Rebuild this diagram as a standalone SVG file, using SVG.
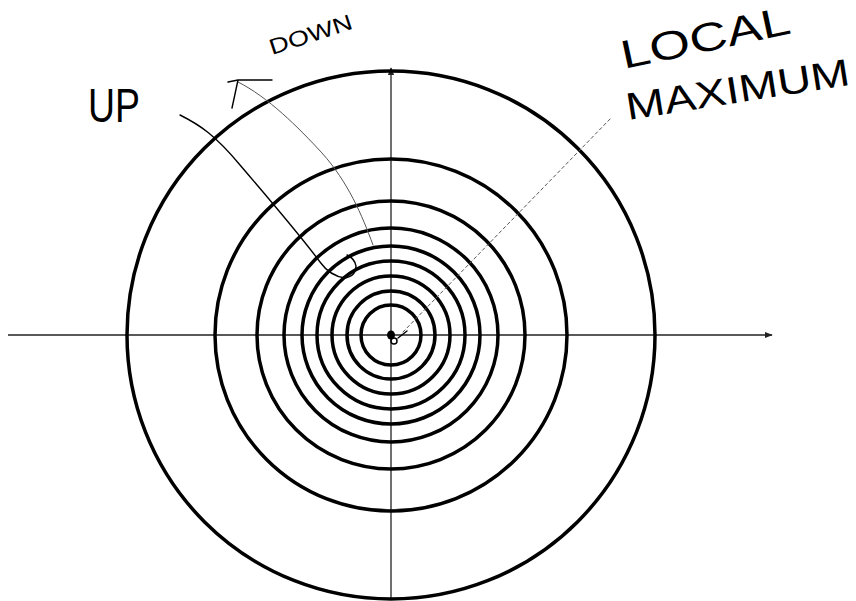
<svg xmlns="http://www.w3.org/2000/svg" width="856" height="601" viewBox="0 0 856 601">
  <style>
    .ring { fill: none; stroke: #000; stroke-width: 3.5; }
    .axis { fill: none; stroke: #222; stroke-width: 1.3; }
    .pen { fill: none; stroke: #000; stroke-width: 1.4; stroke-linecap: round; stroke-linejoin: round; }
    .faint { fill: none; stroke: #555; stroke-width: 1; stroke-linecap: round; }
    .hand { font-family: "Liberation Sans", "DejaVu Sans", sans-serif; fill: #000; }
  </style>
  <defs>
    <marker id="arr" viewBox="0 0 10 10" refX="9" refY="5" markerWidth="6" markerHeight="6" orient="auto">
      <path d="M0,1 L10,5 L0,9 Z" fill="#222"/>
    </marker>
  </defs>
  <rect width="856" height="601" fill="#fff"/>

  <g id="axes">
    <line class="axis" x1="8" y1="335" x2="772" y2="335" marker-end="url(#arr)"/>
    <line class="axis" x1="391" y1="599" x2="391" y2="68" marker-end="url(#arr)"/>
  </g>

  <g id="contours">
    <circle class="ring" cx="391" cy="335" r="264"/>
    <circle class="ring" cx="391" cy="335" r="176"/>
    <circle class="ring" cx="391" cy="335" r="134"/>
    <circle class="ring" cx="391" cy="335" r="107"/>
    <circle class="ring" cx="391" cy="335" r="89"/>
    <circle class="ring" cx="391" cy="335" r="74"/>
    <circle class="ring" cx="391" cy="335" r="59"/>
    <circle class="ring" cx="391" cy="335" r="44"/>
    <circle class="ring" cx="391" cy="335" r="30"/>
  </g>

  <g id="maximum-point">
    <ellipse cx="391" cy="335" rx="4" ry="4.5" fill="#000"/>
    <ellipse cx="394" cy="341" rx="3" ry="3" fill="none" stroke="#000" stroke-width="1.5"/>
    <path class="pen" d="M398,338 L407,331"/>
  </g>

  <g id="connectors">
    <path id="up-arrow" class="pen" d="M180,115 C200,125 215,135 240,165 C270,200 300,235 320,262 Q330,276 345,278 Q356,276 356,266 Q355,259 347,255"/>
    <path id="down-arrow" class="faint" d="M373,245 C362,215 348,182 322,153 C298,127 268,97 238,82"/>
    <path class="pen" d="M228,82 L238,80 L272,80 M238,80 L232,108" stroke-width="1.2"/>
    <line id="max-pointer" class="faint" x1="403" y1="332" x2="612" y2="117" stroke-dasharray="3 3"/>
  </g>

  <g id="label-up">
    <text class="hand" x="88" y="122" font-size="48" textLength="52" lengthAdjust="spacingAndGlyphs">UP</text>
  </g>
  <g id="label-down">
    <text class="hand" x="272" y="55" font-size="22" fill="#333" textLength="86" lengthAdjust="spacingAndGlyphs" transform="rotate(-18 272 55)">DOWN</text>
  </g>
  <g id="label-local-maximum">
    <text class="hand" x="624" y="69" font-size="40" textLength="172" lengthAdjust="spacingAndGlyphs" transform="rotate(-12 624 69)">LOCAL</text>
    <text class="hand" x="628" y="120" font-size="38" textLength="226" lengthAdjust="spacingAndGlyphs" transform="rotate(-9 628 120)">MAXIMUM</text>
  </g>
</svg>
